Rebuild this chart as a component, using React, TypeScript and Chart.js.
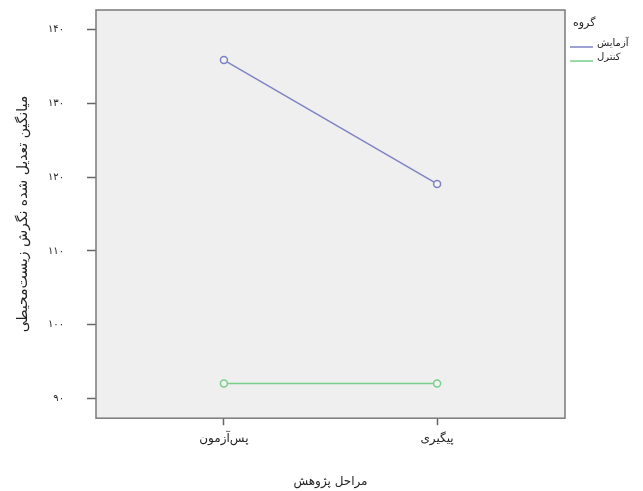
import React, { useEffect, useRef } from "react";
import { Chart, registerables } from "chart.js";

Chart.register(...registerables);

const categories = ["پس‌آزمون", "پیگیری"];
const seriesNames = ["آزمایش", "کنترل"];
const experimentalValues = [135.9, 119.1];
const controlValues = [92.0, 92.0];
const yTickValues = [90, 100, 110, 120, 130, 140];
const yTickLabels = ["۹۰", "۱۰۰", "۱۱۰", "۱۲۰", "۱۳۰", "۱۴۰"];
const legendTitle = "گروه";
const xTitle = "مراحل پژوهش";
const yTitle = "میانگین تعدیل شده نگرش زیست‌محیطی";

const colors = ["#7f82c4", "#79d08a"];
const FONT = "'DejaVu Sans', 'Noto Sans', sans-serif";

const framePlugin = {
  id: "frame",
  beforeDatasetsDraw(chart: any) {
    const { ctx, chartArea: a } = chart;
    ctx.save();
    ctx.fillStyle = "#efefef";
    ctx.fillRect(a.left, a.top, a.right - a.left, a.bottom - a.top);
    ctx.restore();
  },
  afterDraw(chart: any) {
    const { ctx, chartArea: a } = chart;
    ctx.save();
    ctx.strokeStyle = "#7a7a7a";
    ctx.lineWidth = 1.5;
    ctx.strokeRect(a.left, a.top, a.right - a.left, a.bottom - a.top);
    // legend
    ctx.fillStyle = "#222";
    ctx.font = `11px ${FONT}`;
    ctx.textBaseline = "middle";
    ctx.textAlign = "left";
    ctx.fillText(legendTitle, a.right + 8, 23);
    ctx.font = `10px ${FONT}`;
    const ys = [47, 61];
    seriesNames.forEach((n, i) => {
      ctx.strokeStyle = colors[i];
      ctx.lineWidth = 1.5;
      ctx.beginPath();
      ctx.moveTo(a.right + 5, ys[i]);
      ctx.lineTo(a.right + 28, ys[i]);
      ctx.stroke();
      ctx.fillStyle = "#222";
      ctx.fillText(n, a.right + 32, ys[i] - 4);
    });
    ctx.restore();
  },
};

export default function App() {
  const ref = useRef<HTMLCanvasElement>(null);
  useEffect(() => {
    if (!ref.current) return;
    const mk = (vals: number[]) => vals.map((v, i) => ({ x: i, y: v }));
    const chart = new Chart(ref.current, {
      type: "line",
      data: {
        datasets: [experimentalValues, controlValues].map((vals, i) => ({
          label: seriesNames[i],
          data: mk(vals),
          borderColor: colors[i],
          backgroundColor: colors[i],
          borderWidth: 1.5,
          pointRadius: 3.5,
          pointBorderWidth: 1.5,
          pointBorderColor: colors[i],
          pointBackgroundColor: "#f3f3f3",
          fill: false,
        })),
      },
      options: {
        animation: false,
        responsive: false,
        maintainAspectRatio: false,
        layout: { padding: { left: 8, right: 78, top: 10, bottom: 2 } },
        plugins: { legend: { display: false }, tooltip: { enabled: false } },
        scales: {
          x: {
            type: "linear",
            min: -0.6,
            max: 1.6,
            afterBuildTicks: (s: any) => {
              s.ticks = categories.map((_, i) => ({ value: i }));
            },
            ticks: {
              callback: (v: any) => categories[v as number] ?? "",
              font: { family: FONT, size: 12 },
              color: "#222",
              padding: 6,
              maxRotation: 0,
            },
            grid: { drawOnChartArea: false, tickLength: 7, color: "#666", tickWidth: 1.5 },
            border: { display: false },
            title: {
              display: true,
              text: xTitle,
              font: { family: FONT, size: 12 },
              color: "#222",
              padding: { top: 23, bottom: 0 },
            },
          },
          y: {
            type: "linear",
            min: 87.3,
            max: 142.7,
            afterBuildTicks: (s: any) => {
              s.ticks = yTickValues.map((v) => ({ value: v }));
            },
            afterFit: (s: any) => {
              s.paddingTop = 0;
              s.paddingBottom = 0;
              s.width = 88;
            },
            ticks: {
              callback: (v: any) => yTickLabels[yTickValues.indexOf(v as number)] ?? "",
              font: { family: FONT, size: 10 },
              color: "#222",
              padding: 23,
            },
            grid: { drawOnChartArea: false, tickLength: 9, color: "#666", tickWidth: 1.5 },
            border: { display: false },
            title: {
              display: true,
              text: yTitle,
              font: { family: FONT, size: 14 },
              color: "#222",
              padding: { top: 7, bottom: 0 },
            },
          },
        },
      },
      plugins: [framePlugin],
    });
    return () => chart.destroy();
  }, []);
  return (
    <div style={{ position: "fixed", left: 0, top: 0, width: 643, height: 491, background: "#fff" }}>
      <canvas ref={ref} width={643} height={491} style={{ width: 643, height: 491 }} />
    </div>
  );
}
